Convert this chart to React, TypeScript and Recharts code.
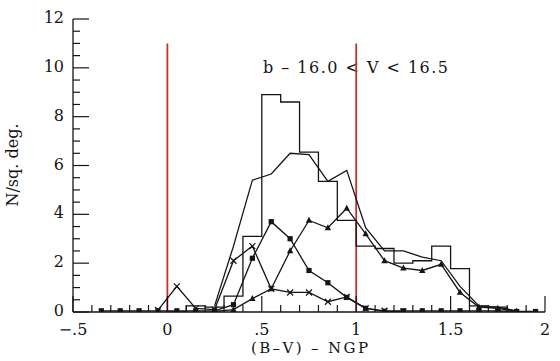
import React from "react";
import {
  ComposedChart,
  Line,
  XAxis,
  YAxis,
  ReferenceLine,
  Customized,
} from "recharts";

// histogram: left bin edge -> count (drawn as a step line)
const histEdges = [0, 0.1, 0.2, 0.3, 0.4, 0.5, 0.6, 0.7, 0.8, 0.9, 1.0, 1.1, 1.2, 1.3, 1.4, 1.5, 1.6, 1.7, 1.8];
const histValues = [0, 0.25, 0.2, 0.65, 3.1, 8.9, 8.6, 6.55, 5.35, 3.75, 2.7, 2.6, 2.0, 2.1, 2.7, 1.78, 0.25, 0.2, 0];

// plain line (no markers)
const totalX = [0.25, 0.35, 0.45, 0.55, 0.65, 0.75, 0.85, 0.95, 1.05, 1.15, 1.25, 1.35, 1.45, 1.55, 1.65, 1.75, 1.85];
const totalY = [0.25, 2.7, 5.4, 5.65, 6.5, 6.45, 5.35, 5.8, 3.45, 2.5, 2.5, 2.25, 2.1, 1.05, 0.25, 0.2, 0.05];

// filled squares
const squareX = [-0.35, -0.25, -0.15, -0.05, 0.05, 0.15, 0.25, 0.35, 0.45, 0.55, 0.65, 0.75, 0.85, 0.95, 1.05, 1.15, 1.25, 1.35, 1.45, 1.55, 1.65, 1.75, 1.85, 1.95];
const squareY = [0.05, 0.05, 0.05, 0.05, 0.05, 0.05, 0.05, 0.3, 2.2, 3.7, 3.0, 1.7, 1.2, 0.6, 0.15, 0.03, 0.05, 0.05, 0.05, 0.05, 0.05, 0.05, 0.02, 0.02];

// filled triangles
const triX = [0.25, 0.35, 0.45, 0.55, 0.65, 0.75, 0.85, 0.95, 1.05, 1.15, 1.25, 1.35, 1.45, 1.55, 1.65, 1.75, 1.85];
const triY = [0.02, 0.1, 0.55, 0.95, 2.5, 3.75, 3.45, 4.25, 3.2, 2.1, 1.8, 1.7, 1.95, 0.8, 0.2, 0.15, 0.03];

// crosses
const crossX = [-0.05, 0.05, 0.15, 0.25, 0.35, 0.45, 0.55, 0.65, 0.75, 0.85, 0.95, 1.05, 1.15, 1.25];
const crossY = [0.08, 1.05, 0.15, 0.1, 2.1, 2.7, 0.95, 0.8, 0.8, 0.42, 0.62, 0.15, 0.05, 0.02];

const xTicks = [-0.5, -0.4, -0.3, -0.2, -0.1, 0, 0.1, 0.2, 0.3, 0.4, 0.5, 0.6, 0.7, 0.8, 0.9, 1, 1.1, 1.2, 1.3, 1.4, 1.5, 1.6, 1.7, 1.8, 1.9, 2];
const xMajorLabels: Record<string, string> = { "-5": "\u2212.5", "0": "0", "5": ".5", "10": "1", "15": "1.5", "20": "2" };
const yTicks = [0, 0.5, 1, 1.5, 2, 2.5, 3, 3.5, 4, 4.5, 5, 5.5, 6, 6.5, 7, 7.5, 8, 8.5, 9, 9.5, 10, 10.5, 11, 11.5, 12];
const yMajorLabels = ["0", "2", "4", "6", "8", "10", "12"];

const redLines = [0, 1];
const redTop = 11;

const pts = (xs: number[], ys: number[]) => xs.map((x, i) => ({ x, y: ys[i] }));

const INK = "#151515";
const RED = "#c8302c";
const FONT = "'DejaVu Serif', serif";
const MAJOR = 16;
const MINOR = 7;

const isXMajor = (v: number) => Math.round(v * 10) % 5 === 0;
const isYMajor = (v: number) => Math.round(v * 2) % 4 === 0;

const BottomTick = (props: any) => {
  const { x, y, payload } = props;
  const v = payload.value;
  const major = isXMajor(v);
  const key = String(Math.round(v * 10));
  return (
    <g>
      <line x1={x} x2={x} y1={y} y2={y - (major ? MAJOR : MINOR)} stroke={INK} strokeWidth={1.2} />
      {major && (
        <text x={x} y={y + 23} textAnchor="middle" fontFamily={FONT} fontSize={16} fill={INK}>
          {xMajorLabels[key]}
        </text>
      )}
    </g>
  );
};

const TopTick = (props: any) => {
  const { x, y, payload } = props;
  const major = isXMajor(payload.value);
  return <line x1={x} x2={x} y1={y} y2={y + (major ? MAJOR : MINOR)} stroke={INK} strokeWidth={1.2} />;
};

const LeftTick = (props: any) => {
  const { x, y, payload } = props;
  const v = payload.value;
  const major = isYMajor(v);
  return (
    <g>
      <line x1={x} x2={x + (major ? MAJOR : MINOR)} y1={y} y2={y} stroke={INK} strokeWidth={1.2} />
      {major && (
        <text x={x - 9} y={y + 4} textAnchor="end" fontFamily={FONT} fontSize={16} fill={INK}>
          {yMajorLabels[Math.round(v / 2)]}
        </text>
      )}
    </g>
  );
};

const RightTick = (props: any) => {
  const { x, y, payload } = props;
  const major = isYMajor(payload.value);
  return <line x1={x} x2={x - (major ? MAJOR : MINOR)} y1={y} y2={y} stroke={INK} strokeWidth={1.2} />;
};

const SquareDot = (p: any) => {
  const { cx, cy, index } = p;
  if (cx == null || cy == null) return <g key={index} />;
  return <rect key={index} x={cx - 2.6} y={cy - 2.6} width={5.2} height={5.2} fill={INK} />;
};

const TriDot = (p: any) => {
  const { cx, cy, index } = p;
  if (cx == null || cy == null) return <g key={index} />;
  return <polygon key={index} points={`${cx},${cy - 3.6} ${cx - 3.2},${cy + 2.4} ${cx + 3.2},${cy + 2.4}`} fill={INK} />;
};

const CrossDot = (p: any) => {
  const { cx, cy, index } = p;
  if (cx == null || cy == null) return <g key={index} />;
  return (
    <path key={index} d={`M${cx - 3},${cy - 3}L${cx + 3},${cy + 3}M${cx - 3},${cy + 3}L${cx + 3},${cy - 3}`} stroke={INK} strokeWidth={1.2} />
  );
};

const Texts = () => (
  <g fontFamily={FONT} fill={INK}>
    <text x={263} y={73} fontSize={16} textLength={185} lengthAdjust="spacing">
      b {"\u2013"} 16.0 {"<"} V {"<"} 16.5
    </text>
    <text x={251} y={353} fontSize={15} textLength={117} lengthAdjust="spacing">
      (B{"\u2013"}V) {"\u2013"} NGP
    </text>
    <text x={0} y={0} fontSize={16} textAnchor="middle" transform="translate(18,165) rotate(-90)">
      N/sq. deg.
    </text>
  </g>
);

export default function App() {
  return (
    <div style={{ position: "absolute", left: 0, top: 0, width: 560, height: 361, background: "#fff" }}>
      <ComposedChart width={560} height={361} margin={{ top: 19, right: 15, bottom: 0, left: 0 }}>
        <XAxis
          xAxisId={0}
          type="number"
          dataKey="x"
          domain={[-0.5, 2]}
          ticks={xTicks}
          interval={0}
          allowDataOverflow
          height={49}
          tickSize={0}
          tickMargin={0}
          tickLine={false}
          tick={<BottomTick />}
          stroke={INK}
          strokeWidth={1.3}
        />
        <XAxis
          xAxisId="top"
          orientation="top"
          type="number"
          domain={[-0.5, 2]}
          ticks={xTicks}
          interval={0}
          allowDataOverflow
          height={0}
          tickSize={0}
          tickMargin={0}
          tickLine={false}
          tick={<TopTick />}
          stroke={INK}
          strokeWidth={1.3}
        />
        <YAxis
          yAxisId={0}
          type="number"
          domain={[0, 12]}
          ticks={yTicks}
          interval={0}
          allowDataOverflow
          width={73}
          tickSize={0}
          tickMargin={0}
          tickLine={false}
          tick={<LeftTick />}
          stroke={INK}
          strokeWidth={1.3}
        />
        <YAxis
          yAxisId="right"
          orientation="right"
          type="number"
          domain={[0, 12]}
          ticks={yTicks}
          interval={0}
          allowDataOverflow
          width={0}
          tickSize={0}
          tickMargin={0}
          tickLine={false}
          tick={<RightTick />}
          stroke={INK}
          strokeWidth={1.3}
        />
        {redLines.map((v) => (
          <ReferenceLine
            key={v}
            segment={[{ x: v, y: 0 }, { x: v, y: redTop }]}
            stroke={RED}
            strokeWidth={1.8}
          />
        ))}
        <Line
          data={pts(histEdges, histValues)}
          dataKey="y"
          type="stepAfter"
          stroke={INK}
          strokeWidth={1.3}
          dot={false}
          isAnimationActive={false}
        />
        <Line
          data={pts(totalX, totalY)}
          dataKey="y"
          type="linear"
          stroke={INK}
          strokeWidth={1.3}
          dot={false}
          isAnimationActive={false}
        />
        <Line
          data={pts(squareX, squareY)}
          dataKey="y"
          type="linear"
          stroke={INK}
          strokeWidth={1.3}
          dot={SquareDot}
          isAnimationActive={false}
        />
        <Line
          data={pts(triX, triY)}
          dataKey="y"
          type="linear"
          stroke={INK}
          strokeWidth={1.3}
          dot={TriDot}
          isAnimationActive={false}
        />
        <Line
          data={pts(crossX, crossY)}
          dataKey="y"
          type="linear"
          stroke={INK}
          strokeWidth={1.3}
          dot={CrossDot}
          isAnimationActive={false}
        />
        <Customized component={Texts} />
      </ComposedChart>
    </div>
  );
}
